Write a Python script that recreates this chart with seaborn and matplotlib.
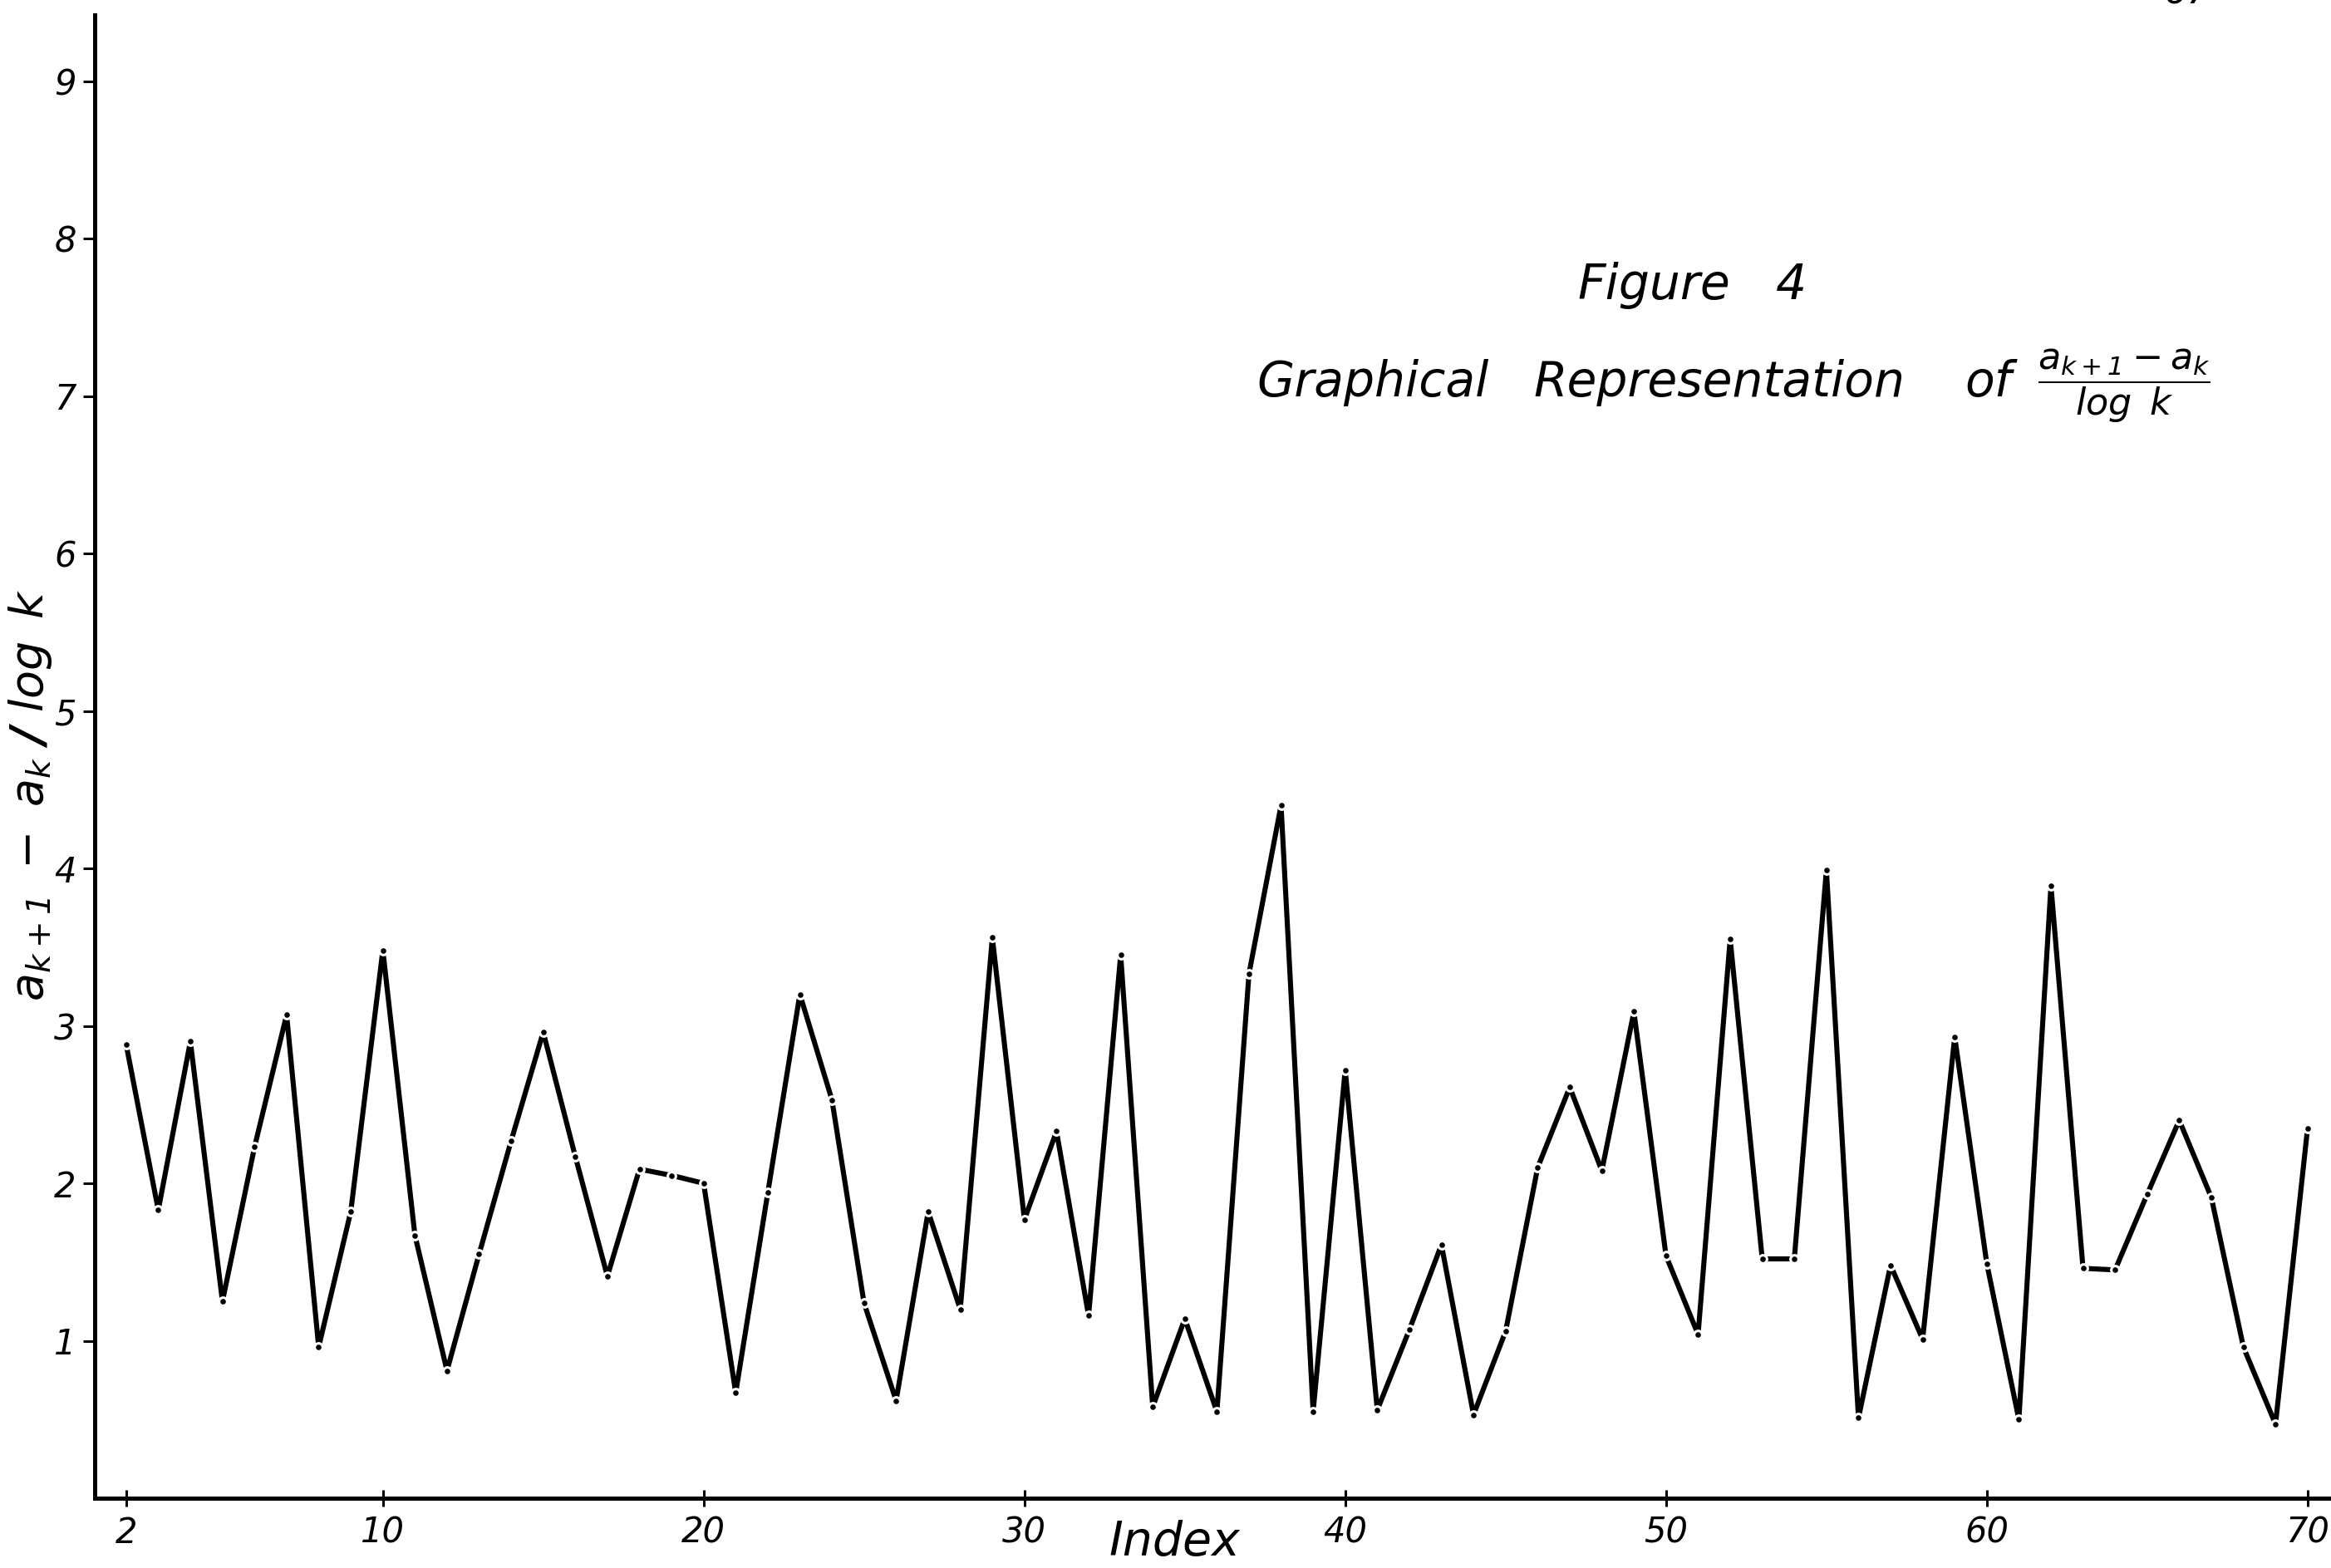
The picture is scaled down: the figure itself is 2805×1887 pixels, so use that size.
import matplotlib
matplotlib.use("Agg")
import matplotlib.pyplot as plt
import seaborn as sns
import pandas as pd

# k = 2 .. 70 and the normalised gap (a_{k+1} - a_k) / log k
index = list(range(2, 71))
ratio = [
    2.88, 1.83, 2.90, 1.25, 2.23, 3.07, 0.96, 1.82, 3.48, 1.67, 0.81,
    1.55, 2.27, 2.96, 2.17, 1.41, 2.09, 2.05, 2.00, 0.67, 1.94, 3.20, 2.53,
    1.24, 0.62, 1.82, 1.20, 3.56, 1.77, 2.33, 1.16, 3.45, 0.58, 1.14, 0.55,
    3.33, 4.40, 0.55, 2.72, 0.56, 1.07, 1.61, 0.53, 1.06, 2.10, 2.61,
    2.08, 3.09, 1.54, 1.04, 3.55, 1.52, 1.52, 3.99, 0.51, 1.48, 1.01, 2.93,
    1.49, 0.50, 3.89, 1.46, 1.45, 1.93, 2.40, 1.91, 0.96, 0.47, 2.35,
]
x_ticks = [2, 10, 20, 30, 40, 50, 60, 70]
y_ticks = [1, 2, 3, 4, 5, 6, 7, 8, 9]

sns.set_theme(style="white")
plt.rcParams["font.family"] = ["DejaVu Sans"]
plt.rcParams["font.style"] = "oblique"
plt.rcParams["mathtext.fontset"] = "dejavusans"
plt.rcParams["text.color"] = "black"
plt.rcParams["xtick.color"] = "black"
plt.rcParams["ytick.color"] = "black"
plt.rcParams["axes.labelcolor"] = "black"

df = pd.DataFrame({"Index": index, "ratio": ratio})

fig = plt.figure(figsize=(28.05, 18.87), dpi=100)
ax = fig.add_axes([0.0406, 0.0445, 1.0 - 0.0406, 0.9905 - 0.0445])

sns.lineplot(data=df, x="Index", y="ratio", ax=ax, color="black",
             linewidth=4.4, marker="o", markersize=7,
             markerfacecolor="black", markeredgecolor="white",
             markeredgewidth=2.2)

ax.set_xlim(1.016, 70.73)
ax.set_ylim(0, 9.42)

for side in ("top", "right"):
    ax.spines[side].set_visible(False)
for side in ("left", "bottom"):
    ax.spines[side].set_linewidth(3.6)
    ax.spines[side].set_color("black")

ax.set_xticks(x_ticks)
ax.set_xticklabels([str(t) for t in x_ticks], fontsize=30, fontstyle="oblique")
ax.set_yticks(y_ticks)
ax.set_yticklabels([str(t) for t in y_ticks], fontsize=30, fontstyle="oblique")
ax.tick_params(axis="x", direction="inout", length=14, width=2.2, pad=8, bottom=True)
ax.tick_params(axis="y", direction="out", length=10, width=2.2, pad=6, left=True)

ax.set_xlabel("")
ax.set_ylabel(r"$a_{k+1}\ -\ a_k\ \mathbf{/}\ \log\ k$", fontsize=40)
ax.yaxis.set_label_coords(-0.018, 0.474)

# Axis title for the index, set just under the tick labels
fig.text(0.504, 0.016, "Index", fontsize=41, fontstyle="oblique",
         ha="center", va="center")

# Caption block, word by word
cap = dict(fontsize=42, fontstyle="oblique", ha="left", va="center")
fig.text(0.6767, 0.818, "Figure", **cap)
fig.text(0.762, 0.818, "4", **cap)
fig.text(0.539, 0.756, "Graphical", **cap)
fig.text(0.658, 0.756, "Representation", **cap)
fig.text(0.843, 0.756, "of", **cap)
fig.text(0.911, 0.754, r"$\dfrac{a_{k+1} - a_k}{\log\ k}$", fontsize=32,
         ha="center", va="center")

# Page number at the top edge of the sheet
fig.text(0.938, 0.9975, "67", fontsize=32, fontstyle="oblique",
         ha="center", va="baseline")

fig.savefig("out.png", dpi=100, facecolor="white")
